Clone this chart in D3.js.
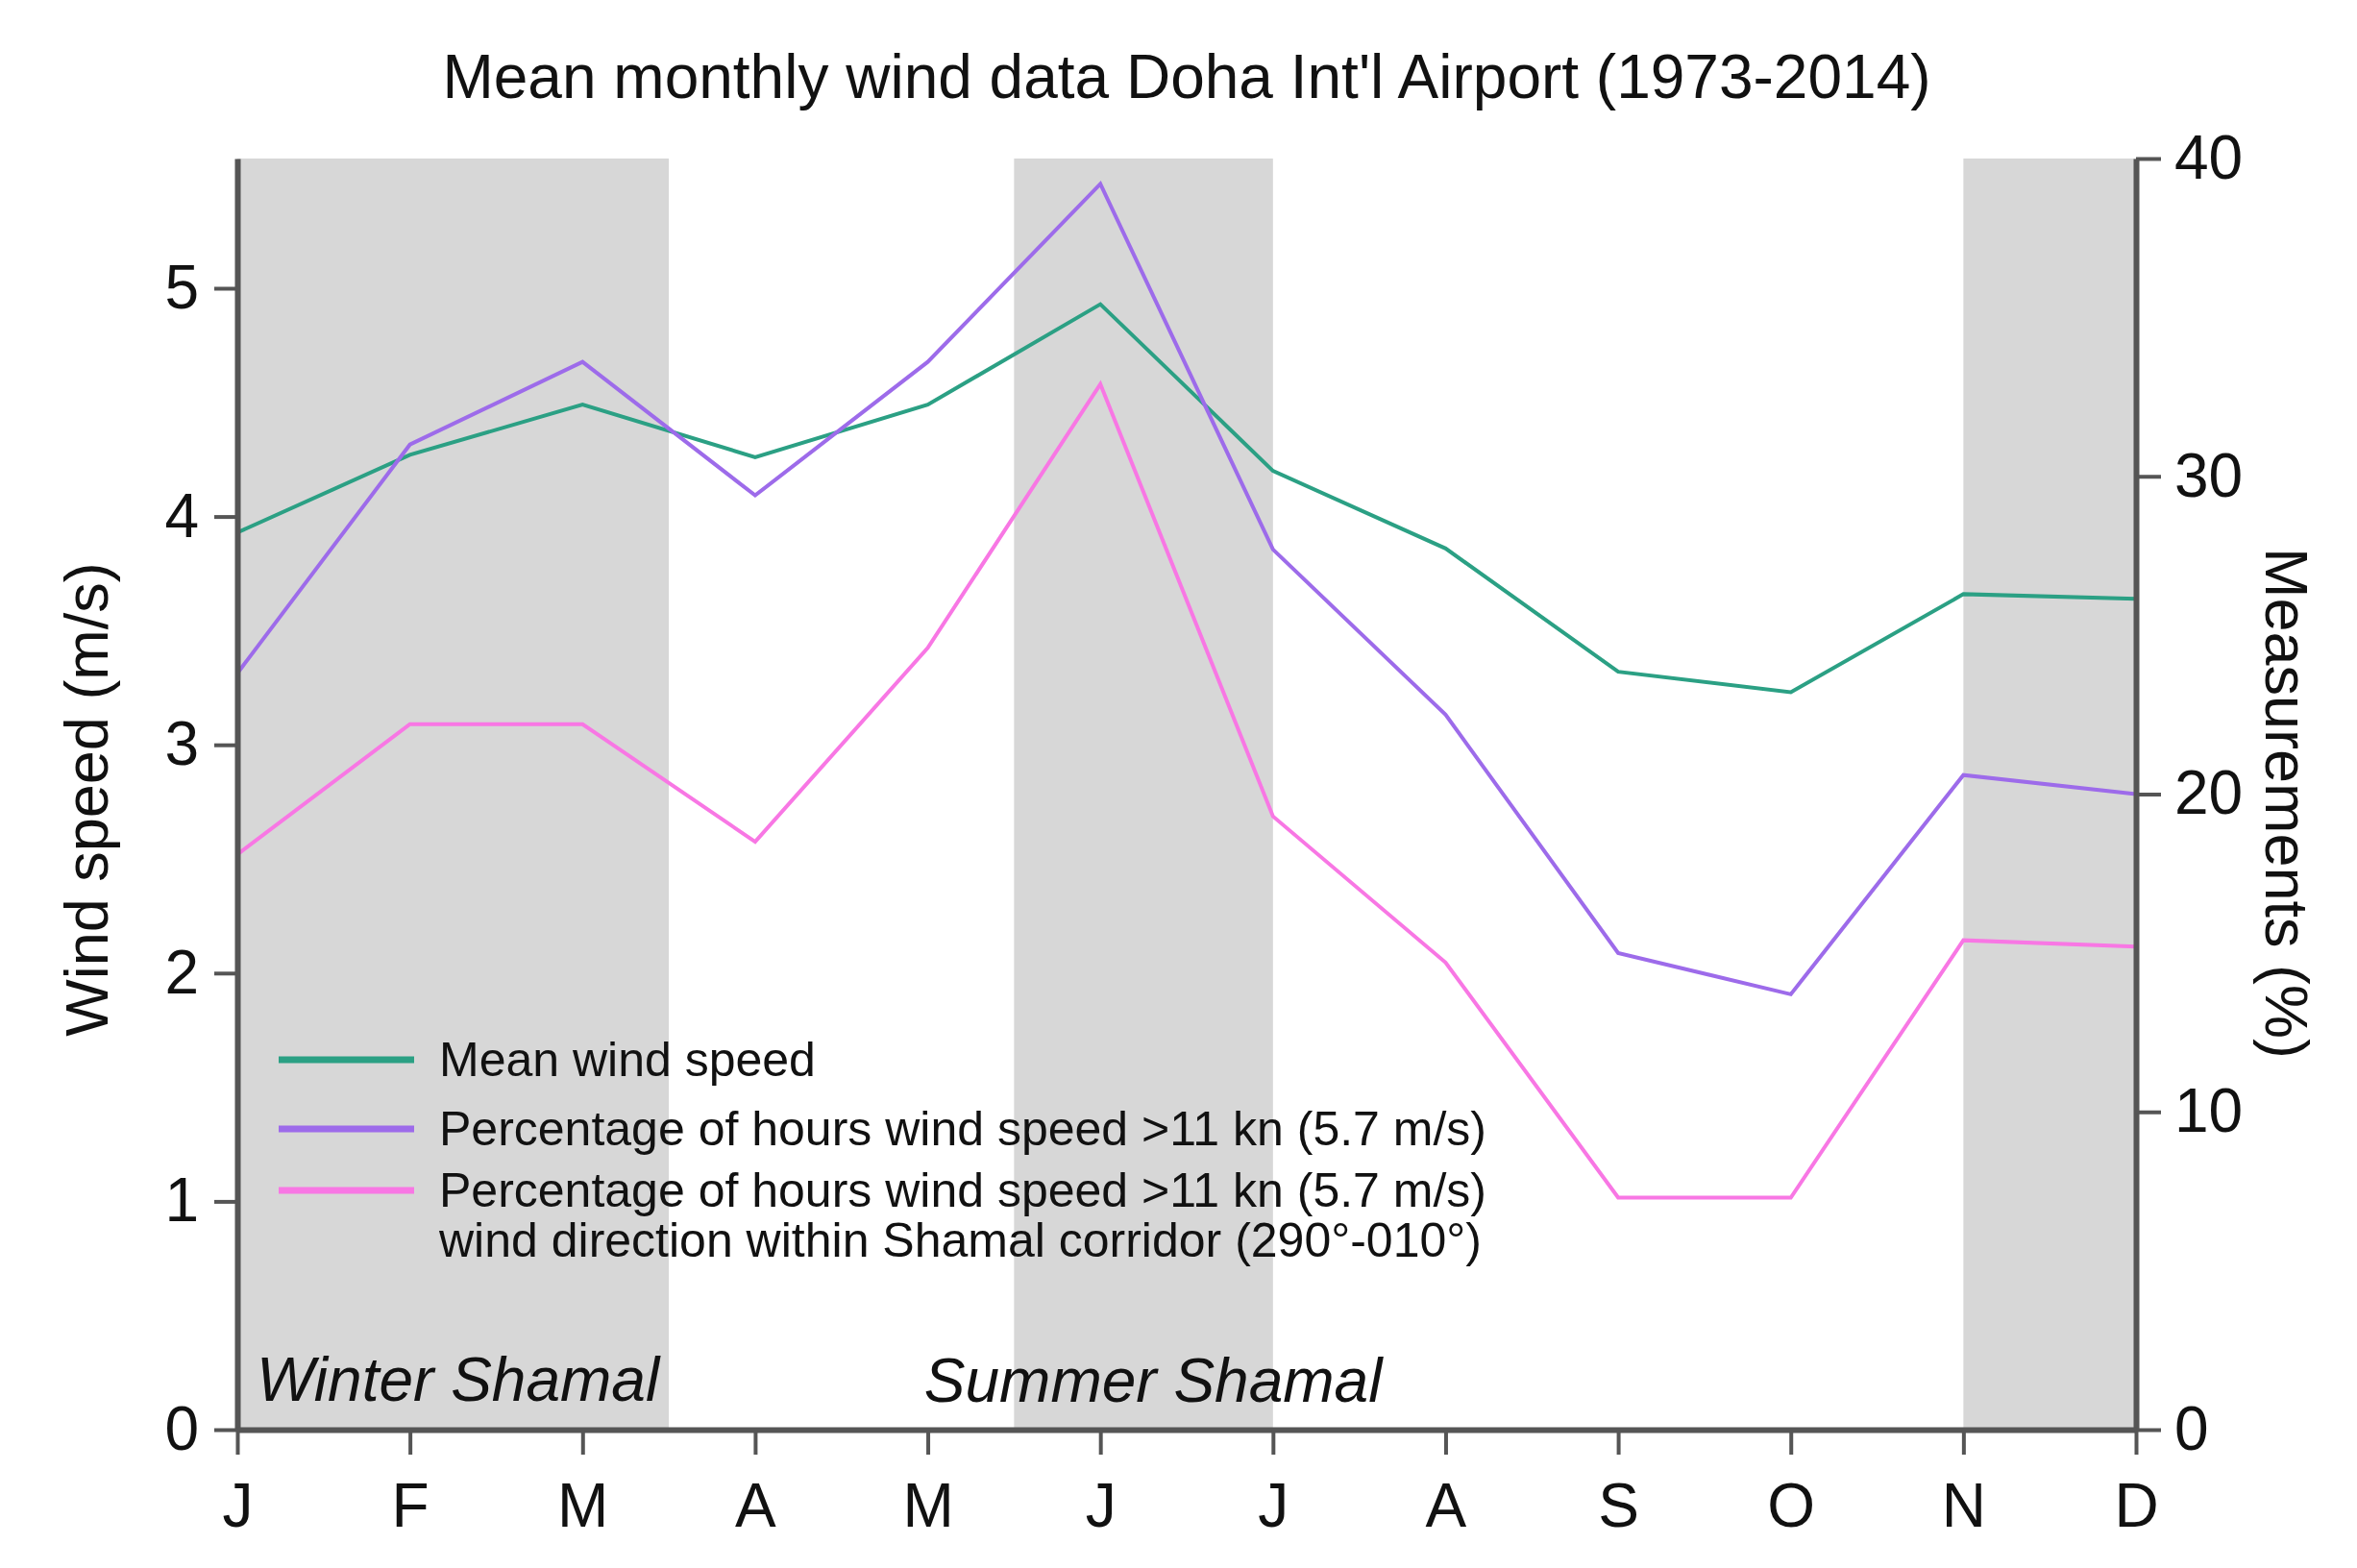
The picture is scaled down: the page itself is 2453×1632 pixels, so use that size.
<!DOCTYPE html>
<html>
<head>
<meta charset="utf-8">
<script src="https://cdn.jsdelivr.net/npm/d3@7"></script>
<style>
  body { margin: 0; background: #fff; }
  svg { display: block; font-family: "Liberation Sans", Arial, sans-serif; }
</style>
</head>
<body>
<div id="chart"></div>
<script>
// month ticks
const months = ["J", "F", "M", "A", "M", "J", "J", "A", "S", "O", "N", "D"];

// mean wind speed (m/s), left axis
const meanSpeed = [3.93, 4.27, 4.49, 4.26, 4.49, 4.93, 4.20, 3.86, 3.32, 3.23, 3.66, 3.64];
// % of hours > 11 kn, right axis
const pctOver11 = [23.8, 31.0, 33.6, 29.4, 33.6, 39.2, 27.7, 22.5, 15.0, 13.7, 20.6, 20.0];
// % of hours > 11 kn and within Shamal corridor, right axis
const pctShamal = [18.1, 22.2, 22.2, 18.5, 24.6, 32.9, 19.3, 14.7, 7.3, 7.3, 15.4, 15.2];

const leftTicks = [0, 1, 2, 3, 4, 5];
const rightTicks = [0, 10, 20, 30, 40];

// shaded Shamal periods (month index)
const bandStart = [0, 4.5, 10];
const bandEnd = [2.5, 6, 11];

const legendLabels = [
  ["Mean wind speed"],
  ["Percentage of hours wind speed >11 kn (5.7 m/s)"],
  ["Percentage of hours wind speed >11 kn (5.7 m/s)", "wind direction within Shamal corridor (290\u00b0-010\u00b0)"]
];

const width = 2453;
const height = 1632;
const plotLeft = 247, plotRight = 2223, plotTop = 165, plotBottom = 1488;
const axisColor = "#555";
const colors = ["#2ba084", "#9d6bea", "#f877e4"];

const x = d3.scaleLinear().domain([0, 11]).range([plotLeft, plotRight]);
const yLeft = d3.scaleLinear().domain([0, (plotBottom - plotTop) / 237.6]).range([plotBottom, plotTop]);
const yRight = d3.scaleLinear().domain([0, 40]).range([plotBottom, plotTop]);

const svg = d3.select('#chart')
  .append('svg')
  .attr('width', width)
  .attr('height', height);

svg.append('rect')
  .attr('width', width)
  .attr('height', height)
  .attr('fill', '#fff');

// bands
svg.selectAll('rect.band')
  .data(d3.range(bandStart.length))
  .enter()
  .append('rect')
  .attr('class', 'band')
  .attr('x', i => x(bandStart[i]))
  .attr('y', plotTop)
  .attr('width', i => x(bandEnd[i]) - x(bandStart[i]))
  .attr('height', plotBottom - plotTop)
  .attr('fill', '#d7d7d7');

// season labels
svg.append('text')
  .text('Winter Shamal')
  .attr('x', x(0) + 20)
  .attr('y', 1458)
  .style('font-size', '64px')
  .style('font-style', 'italic')
  .attr('fill', '#111');

svg.append('text')
  .text('Summer Shamal')
  .attr('x', x(5.25) + 10)
  .attr('y', 1459)
  .attr('text-anchor', 'middle')
  .style('font-size', '64px')
  .style('font-style', 'italic')
  .attr('fill', '#111');

// lines
const lineLeft = d3.line().x((d, i) => x(i)).y(d => yLeft(d));
const lineRight = d3.line().x((d, i) => x(i)).y(d => yRight(d));

svg.append('path')
  .datum(meanSpeed)
  .attr('d', lineLeft)
  .attr('fill', 'none')
  .attr('stroke', colors[0])
  .attr('stroke-width', 4);

svg.append('path')
  .datum(pctOver11)
  .attr('d', lineRight)
  .attr('fill', 'none')
  .attr('stroke', colors[1])
  .attr('stroke-width', 4);

svg.append('path')
  .datum(pctShamal)
  .attr('d', lineRight)
  .attr('fill', 'none')
  .attr('stroke', colors[2])
  .attr('stroke-width', 4);

// axes
function styleAxis(g) {
  g.select('.domain').attr('stroke', axisColor).attr('stroke-width', 6);
  g.selectAll('.tick line').attr('stroke', axisColor).attr('stroke-width', 4);
  g.selectAll('.tick text').attr('fill', '#111').style('font-size', '64px');
  g.attr('font-family', null).attr('font-size', null);
}

svg.append('g')
  .attr('transform', `translate(${plotLeft},0)`)
  .call(d3.axisLeft(yLeft).tickValues(leftTicks).tickFormat(d3.format('d'))
    .tickSize(24).tickSizeOuter(0).tickPadding(16))
  .call(styleAxis);

svg.append('g')
  .attr('transform', `translate(${plotRight},0)`)
  .call(d3.axisRight(yRight).tickValues(rightTicks).tickFormat(d3.format('d'))
    .tickSize(26).tickSizeOuter(0).tickPadding(14))
  .call(styleAxis);

svg.append('g')
  .attr('transform', `translate(0,${plotBottom})`)
  .call(d3.axisBottom(x).tickValues(d3.range(12)).tickFormat(i => months[i])
    .tickSize(26).tickSizeOuter(0).tickPadding(30))
  .call(styleAxis);

// axis titles
svg.append('text')
  .text('Wind speed (m/s)')
  .attr('transform', `translate(112, 832) rotate(-90)`)
  .attr('text-anchor', 'middle')
  .style('font-size', '63px')
  .attr('fill', '#111');

svg.append('text')
  .text('Measurements (%)')
  .attr('transform', `translate(2358, 836) rotate(90)`)
  .attr('text-anchor', 'middle')
  .style('font-size', '63px')
  .attr('fill', '#111');

// title
svg.append('text')
  .text("Mean monthly wind data Doha Int'l Airport (1973-2014)")
  .attr('x', (plotLeft + plotRight) / 2)
  .attr('y', 102)
  .attr('text-anchor', 'middle')
  .style('font-size', '64px')
  .attr('fill', '#111');

// legend
const legendY = [1103, 1175, 1239];
const legend = svg.selectAll('g.legend')
  .data(legendLabels)
  .enter()
  .append('g')
  .attr('class', 'legend')
  .attr('transform', (d, i) => `translate(290, ${legendY[i]})`);

legend.append('line')
  .attr('x1', 0)
  .attr('x2', 141)
  .attr('stroke', (d, i) => colors[i])
  .attr('stroke-width', 7);

legend.selectAll('text')
  .data(d => d)
  .enter()
  .append('text')
  .text(d => d)
  .attr('x', 167)
  .attr('y', (d, j) => j * 52)
  .attr('dy', '0.33em')
  .style('font-size', '50px')
  .attr('fill', '#111');
</script>
</body>
</html>
